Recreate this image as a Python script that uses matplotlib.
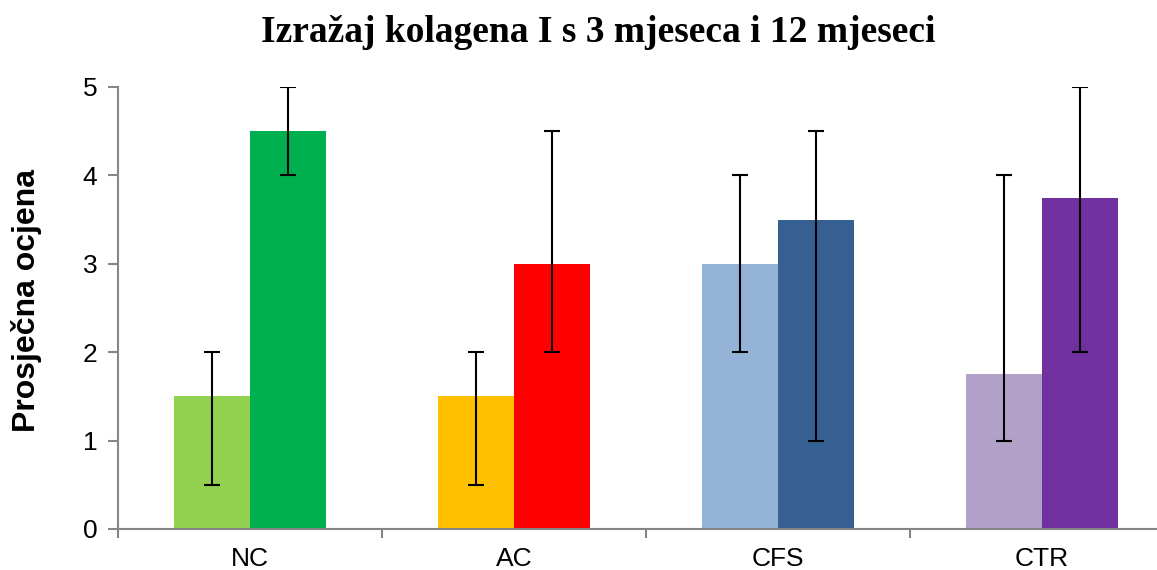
import matplotlib
matplotlib.use("Agg")
import matplotlib.pyplot as plt
import numpy as np

# Prosječne ocjene izražaja kolagena I po skupinama (3 i 12 mjeseci)
groups = ["NC", "AC", "CFS", "CTR"]
mean_3m = [1.5, 1.5, 3.0, 1.75]
low_3m = [0.5, 0.5, 2.0, 1.0]
high_3m = [2.0, 2.0, 4.0, 4.0]
mean_12m = [4.5, 3.0, 3.5, 3.75]
low_12m = [4.0, 2.0, 1.0, 2.0]
high_12m = [5.0, 4.5, 4.5, 5.0]

colors_3m = ["#92D050", "#FFC000", "#95B3D7", "#B1A0C7"]
colors_12m = ["#00B050", "#FF0000", "#366092", "#7030A0"]

plt.rcParams["font.family"] = ["Liberation Sans", "DejaVu Sans"]

fig = plt.figure(figsize=(11.57, 5.70), dpi=100)
ax = fig.add_axes([118 / 1157, 1 - 529 / 570, 1056 / 1157, 442 / 570])

x = np.arange(len(groups))
w = 0.286
m3 = np.array(mean_3m)
m12 = np.array(mean_12m)
err3 = [m3 - np.array(low_3m), np.array(high_3m) - m3]
err12 = [m12 - np.array(low_12m), np.array(high_12m) - m12]

ekw = dict(ecolor="black", elinewidth=1.5, capsize=6, capthick=1.5)
ax.bar(x - w / 2, m3, w, color=colors_3m, yerr=err3, error_kw=ekw, zorder=2)
ax.bar(x + w / 2, m12, w, color=colors_12m, yerr=err12, error_kw=ekw, zorder=2)

ax.set_xlim(-0.5, len(groups) - 0.5)
ax.set_ylim(0, 5)
ax.set_yticks(range(6))
ax.set_xticks(x)
ax.set_xticklabels(groups, fontsize=19)
ax.tick_params(axis="x", length=0, pad=13)
ax.tick_params(axis="y", labelsize=19, length=7, width=1.5,
               color="#868686", pad=8)
# oznake granica kategorija na osi x
for b in np.arange(-0.5, len(groups), 1.0):
    ax.plot([b, b], [0, -0.09], color="#868686", lw=1.5,
            clip_on=False, zorder=3)

for s in ["top", "right"]:
    ax.spines[s].set_visible(False)
for s in ["left", "bottom"]:
    ax.spines[s].set_color("#868686")
    ax.spines[s].set_linewidth(1.5)

ax.set_ylabel("Prosječna ocjena", fontsize=23, fontweight="bold", va="center")
ax.yaxis.set_label_coords(-0.087, 0.518)
fig.text(598 / 1157, 1 - 33 / 570, "Izražaj kolagena I s 3 mjeseca i 12 mjeseci",
         ha="center", va="center", fontsize=27, fontweight="bold",
         family=["Liberation Serif", "DejaVu Serif"])

fig.savefig("out.png", dpi=100)
